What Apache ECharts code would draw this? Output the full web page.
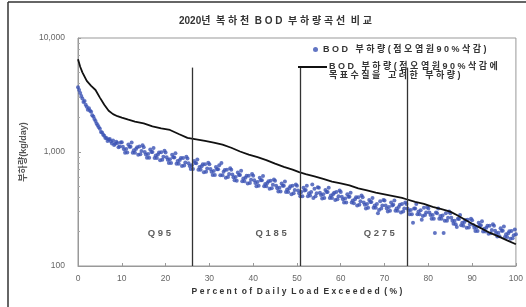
<!DOCTYPE html>
<html>
<head>
<meta charset="utf-8">
<script src="https://cdn.jsdelivr.net/npm/echarts@6/dist/echarts.min.js"></script>
<style>
  html, body { margin: 0; padding: 0; background: #fff; }
  #chart { width: 526px; height: 307px; }
</style>
</head>
<body>
<div id="chart"></div>
<script>
// 부하량곡선 (점오염원 90% 삭감에 목표수질을 고려한 부하량) - [초과확률 %, kg/day]
const targetCurve = [
  [0, 6500], [0.5, 5600], [1, 5000], [2, 4200], [3, 3800], [4, 3500], [5, 3000],
  [6, 2600], [7, 2300], [8, 2150], [9, 2060], [10, 2000], [11.5, 1920], [13, 1850],
  [15, 1780], [17, 1680], [19, 1610], [21, 1560], [23, 1440], [25, 1330], [27, 1290],
  [29, 1250], [31, 1210], [33, 1160], [35, 1090], [37, 1010], [39, 950], [41, 900],
  [43, 850], [45, 790], [47, 740], [49, 700], [50.5, 665], [52, 640], [54, 610],
  [56, 580], [58, 550], [60, 530], [62, 510], [64, 480], [66, 460], [68, 440],
  [70, 425], [72, 410], [74, 395], [75, 385], [77, 365], [79, 350], [81, 330],
  [83, 315], [85, 300], [86.5, 280], [88, 260], [90, 235], [92, 215], [94, 196],
  [96, 182], [98, 168], [100, 155]
];

// BOD 부하량 (점오염원 90% 삭감) 점 - 1
const bodPointsA = [
  [0, 3700], [0.5, 3300], [1, 2950], [1.5, 2800], [2, 2500], [2.5, 2420], [3, 2250], [3.5, 2050],
  [4, 1870], [4.5, 1720], [5, 1600], [5.5, 1480], [6, 1390], [6.5, 1330], [7, 1290], [7.5, 1240],
  [8, 1260], [8.5, 1180], [9, 1200], [9.5, 1120],
  [10, 1220], [10.5, 1055], [11, 1065], [11.5, 1165], [12, 1110], [12.5, 985], [13, 985], [13.5, 1100],
  [14, 1115], [14.5, 1020], [15, 1100], [15.5, 950], [16, 960], [16.5, 1050], [17, 1000], [17.5, 885],
  [18, 885], [18.5, 990], [19, 995], [19.5, 910], [20, 990], [20.5, 855], [21, 865], [21.5, 945],
  [22, 895], [22.5, 790], [23, 790], [23.5, 885], [24, 885], [24.5, 810], [25, 875], [25.5, 755],
  [26, 765], [26.5, 835], [27, 795], [27.5, 700], [28, 700], [28.5, 780], [29, 780], [29.5, 715],
  [30, 780], [30.5, 670], [31, 680], [31.5, 740], [32, 705], [32.5, 625], [33, 625], [33.5, 695],
  [34, 700], [34.5, 640], [35, 700], [35.5, 600], [36, 605], [36.5, 660], [37, 630], [37.5, 555],
  [38, 555], [38.5, 620], [39, 620], [39.5, 570], [40, 620], [40.5, 535], [41, 545], [41.5, 595],
  [42, 565], [42.5, 500], [43, 500], [43.5, 555], [44, 560], [44.5, 515], [45, 560], [45.5, 480],
  [46, 485], [46.5, 530], [47, 505], [47.5, 445], [48, 445], [48.5, 500], [49, 505], [49.5, 465],
  [50, 505], [50.5, 435], [51, 445], [51.5, 485], [52, 465], [52.5, 410], [53, 415], [53.5, 520],
  [54, 475], [54.5, 435], [55, 485], [55.5, 420], [56, 425], [56.5, 465], [57, 445], [57.5, 395],
  [58, 395], [58.5, 440], [59, 445], [59.5, 410], [60, 445], [60.5, 385], [61, 390], [61.5, 425],
  [62, 405], [62.5, 360], [63, 355], [63.5, 400], [64, 400], [64.5, 370], [65, 400], [65.5, 345],
  [66, 350], [66.5, 380], [67, 365], [67.5, 325], [68, 325], [68.5, 290], [69, 370], [69.5, 340],
  [70, 375], [70.5, 320], [71, 330], [71.5, 360], [72, 345], [72.5, 305], [73, 305], [73.5, 345],
  [74, 350], [74.5, 320], [75, 350], [75.5, 305], [76, 310], [76.5, 240], [77, 320], [77.5, 285],
  [78, 285], [78.5, 255], [79, 325], [79.5, 295], [80, 320], [80.5, 280], [81, 280], [81.5, 195],
  [82, 290], [82.5, 260], [83, 260], [83.5, 195], [84, 290], [84.5, 265], [85, 290], [85.5, 250],
  [86, 250], [86.5, 220], [87, 258], [87.5, 228], [88, 226], [88.5, 253], [89, 254], [89.5, 232],
  [90, 252], [90.5, 217], [91, 219], [91.5, 240], [92, 228], [92.5, 201], [93, 201], [93.5, 225],
  [94, 226], [94.5, 207], [95, 225], [95.5, 194], [96, 196], [96.5, 214], [97, 204], [97.5, 180],
  [98, 180], [98.5, 202], [99, 203], [99.5, 186], [100, 190]
];

// BOD 부하량 (점오염원 90% 삭감) 점 - 2
const bodPointsB = [
  [0.25, 3500], [0.75, 3100], [1.25, 2750], [1.75, 2600], [2.25, 2350], [2.75, 2300], [3.25, 2100], [3.75, 1950],
  [4.25, 1780], [4.75, 1650], [5.25, 1500], [5.75, 1420], [6.25, 1330], [6.75, 1250], [7.25, 1300], [7.75, 1190],
  [8.25, 1150], [8.75, 1230], [9.25, 1100], [9.75, 1210],
  [10.25, 1110], [10.75, 985], [11.25, 990], [11.75, 1110], [12.25, 1210], [12.75, 1035], [13.25, 1060], [13.75, 945],
  [14.25, 955], [14.75, 1145], [15.25, 1000], [15.75, 890], [16.25, 890], [16.75, 1000], [17.25, 1085], [17.75, 930],
  [18.25, 950], [18.75, 845], [19.25, 855], [19.75, 1025], [20.25, 900], [20.75, 800], [21.25, 800], [21.75, 900],
  [22.25, 975], [22.75, 835], [23.25, 850], [23.75, 755], [24.25, 760], [24.75, 910], [25.25, 795], [25.75, 710],
  [26.25, 710], [26.75, 800], [27.25, 860], [27.75, 740], [28.25, 750], [28.75, 665], [29.25, 670], [29.75, 805],
  [30.25, 710], [30.75, 630], [31.25, 630], [31.75, 705], [32.25, 765], [32.75, 800], [33.25, 670], [33.75, 595],
  [34.25, 605], [34.75, 720], [35.25, 635], [35.75, 565], [36.25, 560], [36.75, 630], [37.25, 685], [37.75, 585],
  [38.25, 595], [38.75, 530], [39.25, 535], [39.75, 640], [40.25, 565], [40.75, 500], [41.25, 505], [41.75, 565],
  [42.25, 615], [42.75, 525], [43.25, 535], [43.75, 475], [44.25, 480], [44.75, 575], [45.25, 505], [45.75, 450],
  [46.25, 450], [46.75, 505], [47.25, 550], [47.75, 470], [48.25, 480], [48.75, 425], [49.25, 435], [49.75, 520],
  [50.25, 460], [50.75, 410], [51.25, 410], [51.75, 460], [52.25, 505], [52.75, 435], [53.25, 445], [53.75, 395],
  [54.25, 410], [54.75, 490], [55.25, 440], [55.75, 390], [56.25, 395], [56.75, 445], [57.25, 485], [57.75, 415],
  [58.25, 425], [58.75, 380], [59.25, 385], [59.75, 460], [60.25, 405], [60.75, 360], [61.25, 360], [61.75, 405],
  [62.25, 440], [62.75, 375], [63.25, 385], [63.75, 340], [64.25, 345], [64.75, 415], [65.25, 360], [65.75, 320],
  [66.25, 325], [66.75, 365], [67.25, 395], [67.75, 340], [68.25, 350], [68.75, 310], [69.25, 320], [69.75, 380],
  [70.25, 340], [70.75, 300], [71.25, 305], [71.75, 340], [72.25, 375], [72.75, 320], [73.25, 330], [73.75, 295],
  [74.25, 300], [74.75, 360], [75.25, 320], [75.75, 285], [76.25, 285], [76.75, 320], [77.25, 350], [77.75, 300],
  [78.25, 308], [78.75, 275], [79.25, 280], [79.75, 330], [80.25, 295], [80.75, 260], [81.25, 260], [81.75, 295],
  [82.25, 320], [82.75, 275], [83.25, 278], [83.75, 250], [84.25, 250], [84.75, 300], [85.25, 265], [85.75, 235],
  [86.25, 232], [86.75, 260], [87.25, 280], [87.75, 240], [88.25, 243], [88.75, 216], [89.25, 218], [89.75, 260],
  [90.25, 229], [90.75, 203], [91.25, 203], [91.75, 228], [92.25, 247], [92.75, 212], [93.25, 216], [93.75, 192],
  [94.25, 194], [94.75, 232], [95.25, 204], [95.75, 181], [96.25, 182], [96.75, 204], [97.25, 222], [97.75, 190],
  [98.25, 194], [98.75, 173], [99.25, 175], [99.75, 209]
];

// Q95, Q185, Q275 기준선
const qLines = [26.0, 50.7, 75.3];
const qLabels = [[18.6, 192, 'Q 9 5'], [44.1, 192, 'Q 1 8 5'], [68.8, 192, 'Q 2 7 5']];

const FONT = "'Liberation Sans', 'Noto Sans CJK KR', sans-serif";
const spaced = s => s.split('').join(' ');
const nameDots = 'BOD 부하량(점오염원90%삭감)';
const nameLine = ['BOD 부하량(점오염원90%삭감에', '목표수질을 고려한 부하량)'];

const chart = echarts.init(document.getElementById('chart'));
chart.setOption({
  backgroundColor: '#fff',
  animation: false,
  title: {
    text: '2020년  복 하 천  B O D  부 하 량 곡 선  비 교',
    left: 174,
    top: 11,
    textStyle: { fontSize: 10, fontWeight: 'bold', color: '#333', fontFamily: FONT }
  },
  legend: {
    data: [{ name: nameDots, icon: 'circle' }],
    left: 313, top: 45, padding: 0, itemWidth: 5, itemHeight: 5, itemGap: 0,
    formatter: spaced,
    textStyle: { fontSize: 9, fontWeight: 'bold', color: '#333', fontFamily: FONT }
  },
  grid: {
    left: 78, right: 9, top: 38, bottom: 41,
    show: true, borderColor: '#999', borderWidth: 1
  },
  xAxis: {
    type: 'value', min: 0, max: 100, interval: 10,
    name: 'P e r c e n t  o f  D a i l y  L o a d  E x c e e d e d  ( % )',
    nameLocation: 'middle', nameGap: 20,
    nameTextStyle: { fontSize: 8.5, fontWeight: 'bold', color: '#333', fontFamily: FONT },
    axisLine: { lineStyle: { color: '#999' } },
    axisTick: { inside: true, length: 3, lineStyle: { color: '#999' } },
    axisLabel: { fontSize: 8.5, color: '#666', margin: 8, fontFamily: FONT },
    splitLine: { show: false }
  },
  yAxis: {
    type: 'log', logBase: 10, min: 100, max: 10000,
    name: '부하량(kg/day)', nameLocation: 'middle', nameGap: 50,
    nameTextStyle: { fontSize: 9, fontWeight: 'bold', color: '#555', fontFamily: FONT },
    axisLine: { lineStyle: { color: '#999' } },
    axisTick: { inside: true, length: 3, lineStyle: { color: '#999' } },
    minorTick: { show: true, splitNumber: 9, length: 2, lineStyle: { color: '#aaa' } },
    axisLabel: {
      fontSize: 8.5, color: '#666', margin: 13, fontFamily: FONT,
      formatter: v => Number(v).toLocaleString('en-US')
    },
    splitLine: { show: false }
  },
  graphic: [
    // 바깥 테두리 (위, 왼쪽)
    { type: 'line', shape: { x1: 8, y1: 2, x2: 526, y2: 2 }, style: { stroke: '#333', lineWidth: 1.5 } },
    { type: 'line', shape: { x1: 8, y1: 2, x2: 8, y2: 307 }, style: { stroke: '#333', lineWidth: 1.5 } },
    // 두 번째 범례 (선 + 두 줄 글)
    { type: 'line', z: 10, shape: { x1: 298, y1: 67, x2: 327, y2: 67 }, style: { stroke: '#111', lineWidth: 2 } },
    {
      type: 'text', z: 10, left: 329, top: 62,
      style: {
        text: nameLine.map(spaced).join('\n'),
        font: "bold 9px 'Liberation Sans', 'Noto Sans CJK KR', sans-serif",
        lineHeight: 9, fill: '#333'
      }
    }
  ],
  series: [
    {
      name: nameDots,
      type: 'scatter',
      data: bodPointsA.concat(bodPointsB),
      symbolSize: 4,
      itemStyle: { color: '#3b52b4' },
      z: 2
    },
    {
      name: nameLine.join(' '),
      type: 'line',
      data: targetCurve,
      showSymbol: false,
      lineStyle: { color: '#111', width: 1.8 },
      itemStyle: { color: '#111' },
      z: 3,
      markLine: {
        silent: true,
        symbol: 'none',
        label: { show: false },
        lineStyle: { color: '#333', width: 1.3, type: 'solid' },
        data: qLines.map(q => [{ coord: [q, 100] }, { coord: [q, 5500] }])
      }
    },
    {
      name: 'qlabels',
      type: 'scatter',
      data: qLabels,
      symbolSize: 0,
      silent: true,
      label: {
        show: true, position: 'inside',
        formatter: p => p.data[2],
        fontSize: 9.5, fontWeight: 'bold', color: '#333', fontFamily: FONT
      }
    }
  ]
});
</script>
</body>
</html>
